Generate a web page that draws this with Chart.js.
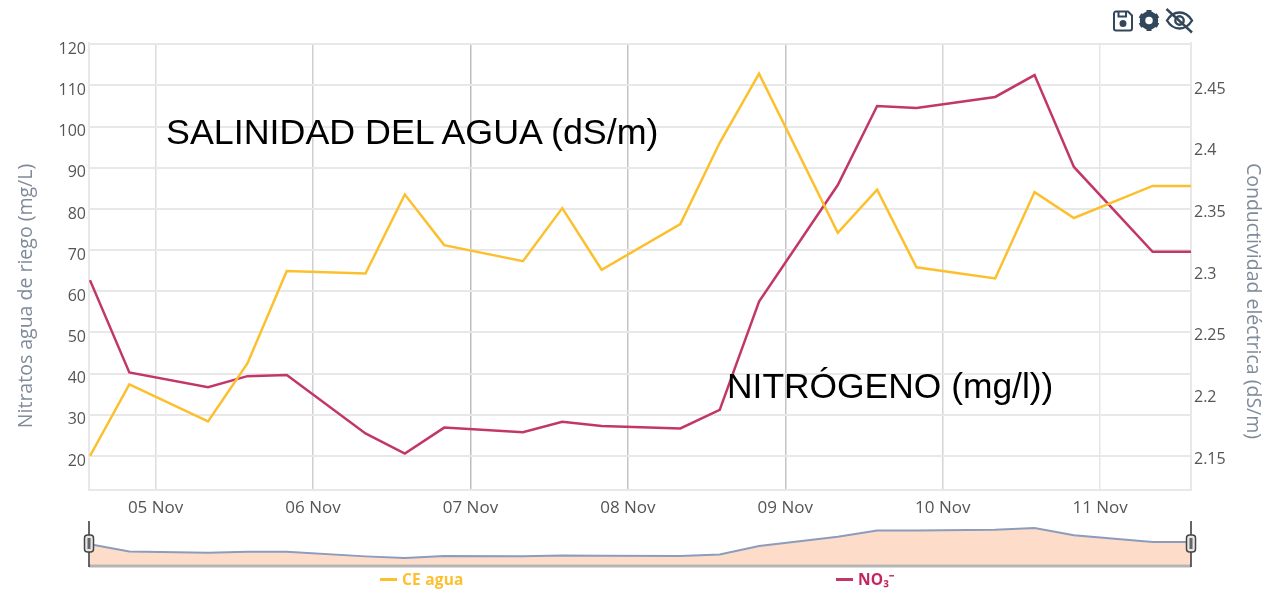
<!DOCTYPE html>
<html lang="es">
<head>
<meta charset="utf-8">
<title>Nitratos y conductividad</title>
<script src="https://cdn.jsdelivr.net/npm/chart.js@4/dist/chart.umd.min.js"></script>
<style>
html,body{margin:0;padding:0;background:#fff;width:1262px;height:590px;overflow:hidden}
canvas{position:absolute;left:0;filter:blur(.7px)}
#main{top:0}
#nav{top:515px}
.note{position:absolute;font-family:"Liberation Sans",Arial,sans-serif;color:#000;white-space:nowrap;font-size:35.4px;line-height:40px}
.leg{position:absolute;top:569px;font:bold 15.5px "Open Sans",sans-serif;white-space:nowrap;filter:blur(.4px);line-height:20px;letter-spacing:.2px}
.leg i{display:inline-block;width:17px;height:3px;vertical-align:middle;margin-right:5px;position:relative;top:-1px}
#icons{position:absolute;left:1112px;top:8px;filter:blur(.5px)}
</style>
</head>
<body>
<canvas id="main" width="1262" height="590"></canvas>
<canvas id="nav" width="1262" height="62"></canvas>
<div class="note" style="left:166px;top:112px;font-size:35.85px">SALINIDAD DEL AGUA (dS/m)</div>
<div class="note" style="left:727px;top:366px">NITRÓGENO (mg/l))</div>
<div class="leg" style="left:380px;color:#fcc02e"><i style="background:#fcc02e"></i>CE agua</div>
<div class="leg" style="left:836px;color:#c2255f"><i style="background:#c2376a"></i>NO₃⁻</div>
<svg id="icons" width="82" height="26" viewBox="0 0 82 26" fill="none" stroke="#33475b" stroke-width="2">
  <path d="M4 3.500h12l4 4v13a2 2 0 0 1-2 2H4a2 2 0 0 1-2-2v-15a2 2 0 0 1 2-2z"/>
  <path d="M6.500 4v4.500h7.500V4"/><circle cx="11" cy="15.500" r="2.500" fill="#33475b"/>
  <g transform="translate(37 12.500)">
    <circle r="6.500" stroke-width="5.500"/>
    <path d="M0-10.500V-6M0 6V10.500M-9-5.200-5.200-3M5.200 3 9 5.200M-9 5.200-5.200 3M5.200-3 9-5.200" stroke-width="5"/>
  </g>
  <path d="M55 12.500c3-5 8-8 12.500-8s9.500 3 12.500 8c-3 5-8 8-12.500 8s-9.500-3-12.500-8z" stroke-width="2.400"/>
  <circle cx="67.500" cy="12.500" r="4.200" stroke-width="2.400"/>
  <path d="M54.500 1 80 24.500" stroke-width="2.400"/>
</svg>
<script>
// Hours counted from 04 Nov 00:00
const hours = [14,20,32,38,44,56,62,68,80,86,92,104,110,116,128,134,140,152,158,164,176,182];
const ceAgua = [2.150,2.208,2.178,2.225,2.300,2.298,2.362,2.321,2.308,2.351,2.301,2.338,2.404,2.460,2.331,2.366,2.303,2.294,2.364,2.343,2.369,2.369];
const nitratos = [62.7,40.3,36.7,39.4,39.7,25.5,20.6,26.9,25.8,28.3,27.3,26.7,31.2,57.5,85.8,105,104.5,107.2,112.5,90.2,69.6,69.6];
const dayTicks = [24,48,72,96,120,144,168];
const dayLabels = ['05 Nov','06 Nov','07 Nov','08 Nov','09 Nov','10 Nov','11 Nov'];
const leftTicks = [20,30,40,50,60,70,80,90,100,110,120];
const rightTicks = [2.15,2.2,2.25,2.3,2.35,2.4,2.45];
const dayGridColors = ['#dcdcdc','#cfcfcf','#bdbdbd','#c4c4c4','#c4c4c4','#d4d4d4','#e6e6e6'];
const leftTitle = 'Nitratos agua de riego (mg/L)';
const rightTitle = 'Conductividad eléctrica (dS/m)';

const yTickFont = {family:'"Open Sans",sans-serif',size:16};
const xTickFont = {family:'"Open Sans",sans-serif',size:17};
const pts = arr => hours.map((h,i)=>({x:h,y:arr[i]}));

const axisTitles = {
  id:'axisTitles',
  afterDraw(c){
    const g=c.ctx;
    const put=(text,x,y,rot)=>{
      g.save();
      g.font='19.5px "Open Sans",sans-serif';
      g.fillStyle='#7f8b99';
      g.textAlign='center';g.textBaseline='middle';
      g.translate(x,y);g.rotate(rot);g.fillText(text,0,0);
      g.restore();
    };
    put(leftTitle,26,296,-Math.PI/2);
    put(rightTitle,1253,301,Math.PI/2);
  }
};

new Chart(document.getElementById('main'),{
  type:'line',
  data:{datasets:[
    {label:'CE agua',data:pts(ceAgua),yAxisID:'y2',borderColor:'#fcc02e',borderWidth:2.5,pointRadius:0,tension:0,borderJoinStyle:'miter'},
    {label:'NO₃⁻',data:pts(nitratos),yAxisID:'y',borderColor:'#c2376a',borderWidth:2.5,pointRadius:0,tension:0,borderJoinStyle:'miter'}
  ]},
  plugins:[axisTitles],
  options:{
    responsive:false,animation:false,
    layout:{padding:{top:43,left:0,right:0,bottom:0}},
    plugins:{legend:{display:false},tooltip:{enabled:false}},
    scales:{
      x:{type:'linear',min:13.85,max:181.85,
        afterBuildTicks(s){s.ticks=dayTicks.map(v=>({value:v}));},
        afterFit(s){s.height=100;},
        grid:{drawTicks:false,lineWidth:1.5,color:c=>dayGridColors[c.index]||'#ddd'},
        border:{color:'#e8e8e8',width:2},
        ticks:{font:xTickFont,color:'#555',padding:8,maxRotation:0,autoSkip:false,callback:(v,i)=>dayLabels[i]}
      },
      y:{position:'left',min:11.75,max:120.3,
        afterBuildTicks(s){s.ticks=leftTicks.map(v=>({value:v}));},
        afterFit(s){s.width=89;},
        grid:{drawTicks:false,lineWidth:2,color:'#e8e8e8'},
        border:{color:'#e8e8e8',width:2},
        ticks:{font:yTickFont,color:'#555',padding:3,labelOffset:5,callback:v=>String(v)}
      },
      y2:{position:'right',min:2.1224,max:2.4849,
        afterBuildTicks(s){s.ticks=rightTicks.map(v=>({value:v}));},
        afterFit(s){s.width=71;},
        grid:{display:false,drawTicks:false},
        border:{color:'#e8e8e8',width:2},
        ticks:{font:yTickFont,color:'#555',padding:3,labelOffset:3,callback:v=>String(v)}
      }
    }
  }
});

const navHandles = {
  id:'navHandles',
  afterDraw(c){
    const g=c.ctx,a=c.chartArea;
    g.save();
    g.strokeStyle='#b5b5b5';g.lineWidth=3;
    g.beginPath();g.moveTo(a.left,a.bottom);g.lineTo(a.right,a.bottom);g.stroke();
    [a.left,a.right].forEach(x=>{
      g.strokeStyle='#333';g.lineWidth=1.5;
      g.beginPath();g.moveTo(x,a.top+1);g.lineTo(x,a.bottom+1);g.stroke();
      g.fillStyle='#e6e6e6';g.strokeStyle='#444';g.lineWidth=1.5;
      g.beginPath();g.roundRect(x-4.5,a.top+15,9,17,3);g.fill();g.stroke();
      g.fillStyle='#666';
      g.fillRect(x-1.5,a.top+18,3,11);
    });
    g.restore();
  }
};

new Chart(document.getElementById('nav'),{
  type:'line',
  data:{datasets:[
    {label:'nav',data:pts(nitratos),borderColor:'#8c9cbc',borderWidth:2,pointRadius:0,tension:0,fill:'start',backgroundColor:'#fdddc9'}
  ]},
  plugins:[navHandles],
  options:{
    responsive:false,animation:false,
    layout:{padding:{top:5,left:89,right:71,bottom:11}},
    plugins:{legend:{display:false},tooltip:{enabled:false}},
    scales:{
      x:{type:'linear',display:false,min:13.85,max:181.85},
      y:{display:false,min:-4,max:137}
    }
  }
});
</script>
</body>
</html>
